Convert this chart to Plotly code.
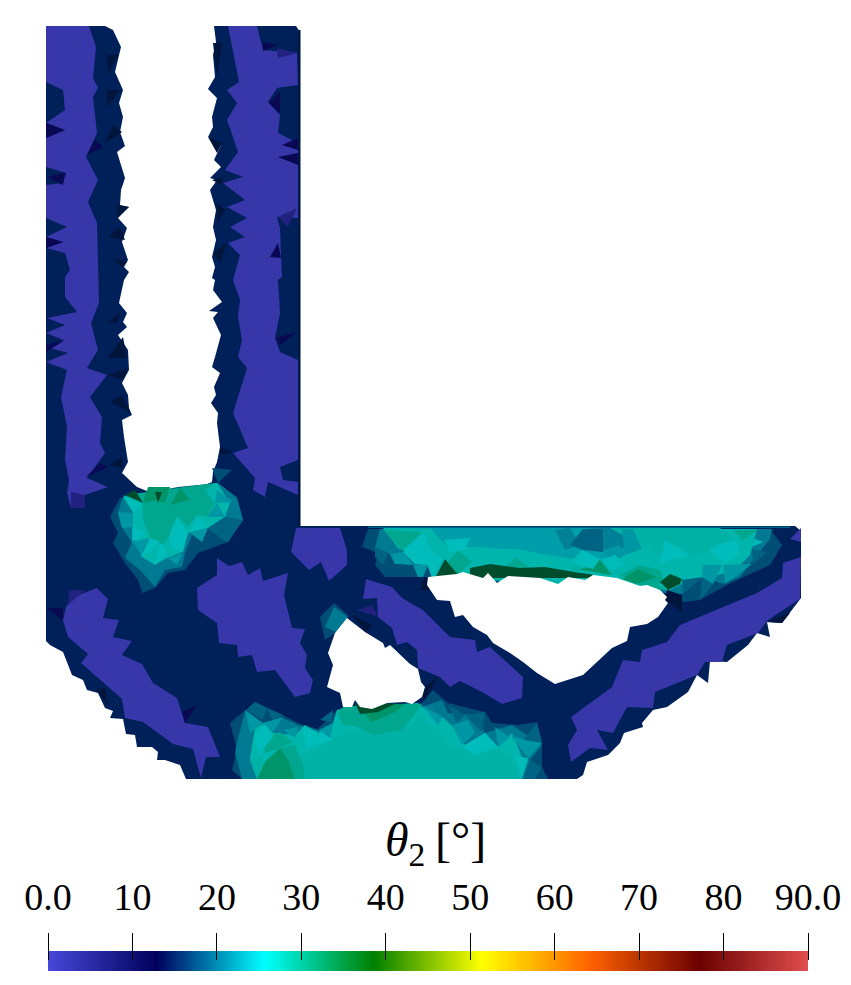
import numpy as np
import plotly.graph_objects as go
from plotly.colors import sample_colorscale

WIDTH = 851
HEIGHT = 985

# ParaView "rainbow desaturated" map
RAINBOW = [
    [0 / 7, 'rgb(71,71,219)'], [1 / 7, 'rgb(0,0,92)'], [2 / 7, 'rgb(0,255,255)'],
    [3 / 7, 'rgb(0,128,0)'], [4 / 7, 'rgb(255,255,0)'], [5 / 7, 'rgb(255,97,0)'],
    [6 / 7, 'rgb(107,0,0)'], [7 / 7, 'rgb(224,77,77)'],
]

TICK_VALUES = [0, 10, 20, 30, 40, 50, 60, 70, 80, 90]
TICK_LABELS = ['0.0', '10', '20', '30', '40', '50', '60', '70', '80', '90.0']
BAR_VALUES = np.linspace(0, 90, 721)

# Geometry, as outlines in image pixels
BRACKET = [[
    (46, 26), (105, 26), (113, 30), (121, 47), (115, 72), (123, 90), (119, 103), (123, 117),
    (120, 132), (125, 146), (117, 152), (125, 178), (121, 190), (120, 205), (129, 207),
    (118, 218), (127, 228), (122, 242), (128, 260), (124, 267), (129, 272), (124, 280),
    (119, 303), (127, 313), (123, 322), (127, 327), (118, 335), (128, 350), (129, 370),
    (122, 383), (128, 395), (129, 408), (132, 415), (122, 420), (124, 437), (128, 462),
    (122, 473), (137, 487), (147, 491), (177, 490), (197, 488), (212, 482), (213, 472),
    (217, 462), (220, 447), (217, 423), (218, 413), (211, 403), (216, 395), (214, 387),
    (220, 373), (212, 367), (215, 357), (221, 335), (213, 318), (218, 312), (209, 311),
    (222, 302), (213, 290), (215, 280), (212, 278), (215, 267), (212, 257), (216, 240),
    (213, 227), (216, 210), (210, 190), (217, 180), (210, 178), (221, 167), (214, 160),
    (221, 145), (208, 137), (213, 127), (212, 117), (217, 98), (208, 89), (215, 77),
    (213, 55), (216, 42), (214, 26), (296, 26), (300, 32), (300, 526), (795, 526),
    (801, 531), (801, 598), (790, 613), (782, 623), (767, 622), (770, 637), (757, 633),
    (748, 645), (727, 662), (710, 661), (708, 683), (697, 675), (688, 692), (667, 707),
    (653, 710), (642, 723), (643, 727), (624, 733), (620, 743), (608, 755), (587, 762),
    (583, 775), (577, 779), (186, 779), (180, 765), (165, 760), (157, 760), (158, 752),
    (152, 747), (137, 747), (135, 735), (126, 734), (123, 719), (110, 718), (113, 711),
    (105, 708), (98, 693), (87, 690), (83, 680), (72, 675), (63, 652), (50, 645), (46, 641),
]]
SMALL_VOID = [[
    (347, 618), (365, 632), (383, 643), (385, 648), (390, 645), (410, 664), (418, 669),
    (421, 682), (425, 687), (422, 697), (412, 704), (405, 702), (387, 703), (372, 709),
    (360, 707), (355, 700), (352, 707), (343, 707), (340, 693), (327, 687), (333, 665),
    (328, 653), (335, 633),
]]
LARGE_VOID = [[
    (428, 577), (457, 574), (463, 572), (483, 578), (488, 573), (497, 583), (508, 576),
    (540, 578), (558, 584), (568, 577), (585, 580), (593, 575), (617, 578), (640, 586),
    (647, 585), (660, 590), (667, 597), (665, 600), (668, 603), (658, 617), (647, 624),
    (630, 627), (627, 641), (612, 648), (583, 675), (555, 684), (537, 673), (523, 662),
    (510, 653), (493, 643), (487, 635), (473, 627), (463, 615), (455, 617), (450, 601),
    (437, 600), (427, 585),
]]

# Low angle zones
THETA_3 = [
    [(46, 26), (89, 26), (96, 47), (93, 78), (98, 88), (93, 97), (97, 133), (86, 157),
     (98, 180), (88, 202), (97, 223), (98, 280), (99, 303), (91, 323), (98, 350), (87, 368),
     (107, 375), (90, 397), (102, 417), (100, 443), (105, 453), (87, 478), (108, 487),
     (85, 495), (85, 508), (71, 508), (67, 493), (69, 480), (65, 460), (67, 427), (61, 397),
     (67, 370), (46, 362), (68, 353), (46, 347), (63, 340), (46, 333), (65, 325), (47, 318),
     (77, 312), (65, 297), (65, 277), (70, 270), (65, 253), (46, 248), (63, 242), (46, 237),
     (67, 227), (46, 218), (46, 185), (63, 183), (66, 173), (46, 167), (46, 138), (65, 130),
     (46, 123), (65, 110), (63, 90), (46, 82)],
    [(228, 26), (257, 26), (263, 50), (297, 53), (298, 85), (277, 88), (268, 102), (280, 115),
     (278, 133), (298, 143), (298, 218), (277, 217), (280, 228), (282, 277), (278, 280),
     (280, 313), (275, 338), (280, 352), (298, 360), (298, 460), (280, 467), (283, 480),
     (298, 482), (298, 495), (268, 482), (265, 497), (253, 490), (255, 478), (233, 453),
     (248, 448), (233, 413), (247, 368), (238, 357), (242, 340), (238, 317), (240, 300),
     (233, 280), (240, 255), (228, 243), (245, 237), (230, 227), (247, 218), (227, 207),
     (245, 200), (223, 183), (243, 177), (225, 170), (238, 152), (233, 137), (227, 120),
     (237, 103), (227, 90), (239, 82), (233, 50)],
    [(97, 588), (108, 599), (103, 618), (119, 620), (113, 637), (132, 641), (122, 655),
     (142, 664), (153, 683), (177, 698), (185, 723), (208, 727), (220, 757), (206, 757),
     (201, 778), (193, 749), (173, 744), (143, 722), (125, 718), (122, 699), (81, 663),
     (88, 654), (68, 637), (63, 620), (66, 607), (73, 597)],
    [(217, 558), (229, 566), (242, 562), (248, 575), (260, 568), (263, 581), (288, 573),
     (284, 595), (292, 628), (305, 629), (300, 643), (307, 655), (305, 668), (313, 680),
     (310, 693), (295, 697), (275, 670), (257, 672), (252, 655), (238, 657), (237, 645),
     (219, 643), (217, 623), (198, 610), (197, 588), (217, 575)],
    [(296, 528), (340, 528), (347, 550), (347, 565), (329, 581), (321, 562), (309, 570),
     (291, 552)],
    [(366, 579), (392, 587), (402, 598), (423, 610), (450, 637), (475, 640), (477, 652),
     (490, 647), (523, 677), (522, 698), (502, 704), (482, 692), (460, 681), (450, 687),
     (440, 677), (418, 668), (417, 650), (407, 642), (397, 645), (392, 628), (378, 617),
     (377, 598), (363, 599)],
    [(801, 557), (800, 599), (768, 620), (758, 633), (727, 645), (722, 662), (705, 662),
     (697, 675), (655, 692), (653, 708), (627, 707), (613, 733), (597, 730), (608, 750),
     (590, 748), (571, 762), (568, 745), (577, 730), (571, 717), (612, 687), (623, 660),
     (640, 662), (642, 650), (667, 642), (680, 625), (727, 605), (757, 593), (782, 578),
     (783, 563)],
    [(790, 539), (801, 528), (801, 542)],
]
THETA_6 = [
    [(277, 48), (278, 58), (297, 53)], [(278, 217), (297, 208), (288, 227)],
    [(71, 492), (85, 495), (85, 508), (71, 508)], [(69, 590), (85, 590), (68, 605)],
    [(357, 610), (372, 605), (378, 617)],
]
THETA_10 = [
    [(46, 123), (65, 130), (46, 138)], [(87, 155), (95, 140), (103, 147)],
    [(47, 177), (65, 173), (63, 185)], [(46, 237), (63, 242), (46, 248)],
    [(263, 42), (278, 45), (263, 51)], [(269, 103), (280, 92), (280, 113)],
    [(282, 145), (298, 138), (298, 150)], [(278, 157), (298, 153), (298, 165)],
    [(270, 257), (278, 243), (281, 258)], [(46, 345), (65, 340), (46, 352)],
    [(46, 608), (63, 608), (63, 620)], [(182, 712), (197, 705), (185, 723)],
    [(276, 338), (297, 332), (280, 345)], [(86, 477), (100, 463), (108, 467)],
]

# Patch below the slot, bottom patch, top band: nested rings of facets
THETA_18 = [
    [(120, 498), (110, 517), (118, 533), (113, 543), (125, 563), (138, 580), (142, 593),
     (155, 588), (168, 573), (185, 570), (198, 553), (228, 542), (243, 520), (237, 497),
     (218, 483), (212, 468), (232, 470), (218, 483), (178, 487)],
    [(230, 723), (255, 702), (283, 715), (298, 723), (318, 729), (333, 713), (345, 707),
     (422, 703), (433, 690), (448, 703), (485, 712), (492, 723), (518, 725), (537, 722),
     (542, 743), (542, 767), (548, 779), (242, 779), (232, 770), (237, 750)],
    [(368, 529), (362, 547), (378, 553), (375, 565), (385, 577), (428, 577), (667, 592),
     (683, 602), (700, 600), (727, 585), (750, 574), (770, 565), (782, 545), (770, 529)],
    [(320, 617), (334, 603), (348, 615), (335, 633), (325, 640)],
]
THETA_21 = [
    [(123, 497), (118, 512), (122, 528), (132, 542), (125, 558), (140, 570), (155, 587),
     (165, 570), (182, 567), (185, 553), (192, 535), (208, 528), (227, 542), (243, 520),
     (237, 498), (218, 483)],
    [(237, 742), (245, 712), (263, 723), (283, 718), (298, 725), (318, 730), (333, 723),
     (337, 710), (422, 707), (442, 700), (448, 713), (475, 715), (485, 733), (512, 725),
     (542, 745), (530, 760), (540, 767), (535, 779), (242, 779), (235, 753)],
    [(380, 529), (375, 547), (390, 554), (410, 565), (428, 565), (432, 577), (682, 594),
     (703, 577), (723, 584), (740, 577), (753, 560), (770, 539), (772, 529)],
    [(325, 627), (334, 607), (348, 617), (336, 632)],
]
THETA_24 = [
    [(430, 528), (447, 547), (477, 547), (500, 549), (517, 549), (547, 555), (573, 559),
     (582, 550), (600, 559), (625, 555), (650, 528)],
]
THETA_22 = [
    [(590, 528), (600, 552), (625, 548), (622, 528)],
    [(555, 530), (570, 528), (580, 545), (565, 550)],
]
THETA_26 = [
    [(123, 497), (133, 512), (132, 533), (142, 557), (155, 565), (167, 558), (182, 552),
     (188, 533), (208, 528), (225, 517), (230, 503), (217, 483)],
    [(250, 758), (255, 728), (265, 723), (273, 733), (295, 735), (305, 725), (318, 733),
     (333, 723), (337, 710), (347, 707), (418, 703), (435, 718), (443, 717), (453, 727),
     (465, 745), (485, 733), (498, 747), (512, 733), (522, 757), (528, 758), (522, 779),
     (257, 779)],
    [(383, 528), (398, 548), (425, 560), (432, 577), (670, 590), (690, 580), (718, 575),
     (735, 570), (750, 555), (757, 529)],
]
THETA_28 = [
    [(280, 779), (287, 750), (305, 755), (337, 737), (345, 730), (400, 730), (420, 722),
     (440, 730), (445, 745), (470, 750), (490, 745), (510, 757), (520, 779)],
    [(610, 528), (720, 528), (735, 540), (725, 550), (690, 555), (660, 555), (640, 545)],
    [(405, 733), (422, 710), (428, 732)], [(250, 760), (265, 753), (257, 779)],
    [(573, 564), (593, 569), (570, 573)],
]
THETA_30 = [
    [(125, 495), (143, 503), (143, 520), (150, 538), (162, 545), (172, 533), (177, 517),
     (188, 527), (197, 515), (207, 517), (215, 503), (205, 490), (215, 483)],
    [(337, 712), (345, 706), (422, 704), (412, 718), (402, 730), (385, 733), (373, 735),
     (358, 727), (343, 725)],
    [(383, 530), (402, 550), (423, 532)], [(733, 530), (743, 540), (757, 530)],
    [(448, 562), (458, 550), (472, 562), (457, 575)],
    [(500, 570), (517, 558), (530, 568), (520, 575)],
    [(265, 762), (280, 748), (295, 745), (303, 765), (305, 779), (262, 779)],
    [(263, 740), (280, 732), (293, 742), (282, 747), (265, 753)],
    [(620, 575), (640, 565), (660, 570), (668, 590), (640, 585)],
]
THETA_33 = [
    [(257, 779), (265, 762), (280, 748), (288, 760), (295, 779)],
    [(143, 503), (155, 500), (165, 503), (170, 487), (148, 487)],
    [(170, 505), (180, 488), (190, 500)],
    [(355, 703), (372, 722), (395, 712), (405, 704)],
    [(570, 568), (580, 570), (600, 560), (612, 575)],
    [(440, 577), (448, 565), (460, 575)], [(638, 569), (657, 577), (637, 584), (622, 579)],
]
# Darker blue-teal facets that break up the rings
THETA_19 = [
    [(225, 517), (243, 520), (228, 542)], [(208, 528), (225, 517), (228, 542)],
    [(255, 702), (267, 708), (263, 720), (247, 710)], [(267, 708), (283, 715), (273, 722)],
    [(320, 720), (333, 710), (332, 722)], [(448, 705), (465, 715), (457, 723)],
    [(465, 715), (485, 712), (482, 732)], [(523, 740), (537, 723), (542, 743)],
    [(530, 760), (542, 767), (535, 779), (523, 779)],
    [(375, 547), (388, 554), (383, 565), (375, 557)], [(682, 580), (702, 577), (683, 594)],
    [(702, 577), (713, 584), (700, 600)], [(752, 549), (767, 552), (753, 564)],
    [(570, 545), (583, 529), (603, 529), (603, 552), (583, 550)],
    [(368, 526.5), (790, 526.5), (790, 528), (368, 528)],
]
THETA_23 = [
    [(118, 512), (133, 513), (132, 527), (122, 528)], [(215, 503), (233, 502), (217, 490)],
    [(217, 503), (225, 517), (207, 517)], [(190, 533), (208, 528), (202, 542)],
    [(132, 542), (150, 538), (142, 555)], [(168, 558), (183, 553), (177, 565)],
    [(245, 710), (263, 723), (250, 733)], [(263, 723), (283, 717), (273, 732)],
    [(283, 730), (298, 727), (295, 738)], [(320, 730), (333, 723), (330, 740)],
    [(422, 705), (443, 717), (438, 725)], [(452, 725), (468, 720), (475, 733), (462, 745)],
    [(495, 727), (510, 737), (498, 747)], [(510, 735), (525, 740), (542, 743), (528, 758)],
    [(390, 554), (403, 552), (413, 565), (395, 564)], [(413, 565), (428, 565), (423, 577), (418, 577)],
    [(603, 550), (620, 545), (625, 555), (613, 562)], [(622, 529), (633, 529), (642, 549), (625, 555)],
    [(703, 565), (722, 565), (713, 584), (702, 577)],
    [(723, 565), (740, 564), (752, 564), (735, 577), (725, 584)],
]
# Bright cyan facets
THETA_25 = [
    [(123, 495), (143, 505), (133, 512)], [(133, 527), (145, 533), (132, 542)],
    [(150, 538), (160, 542), (142, 557)], [(160, 542), (167, 553), (155, 565)],
    [(177, 517), (187, 533), (170, 533)], [(170, 533), (188, 533), (183, 552), (170, 547)],
    [(197, 517), (208, 527), (190, 532)], [(255, 735), (265, 725), (273, 737), (258, 755)],
    [(302, 727), (318, 732), (307, 748)], [(305, 748), (322, 732), (333, 740)],
    [(462, 747), (485, 733), (498, 747), (475, 755)], [(515, 755), (528, 760), (522, 777)],
    [(665, 540), (690, 555), (660, 563)], [(716, 545), (735, 540), (740, 550), (725, 562)],
    [(444, 540), (470, 538), (465, 550), (450, 552)], [(582, 550), (600, 559), (593, 569), (573, 564)],
    [(602, 560), (615, 555), (625, 565), (612, 570)], [(658, 584), (667, 590), (680, 584)],
    [(708, 549), (720, 547), (740, 554), (725, 564)], [(755, 539), (763, 542), (752, 547)],
    [(403, 552), (423, 532), (430, 549), (443, 559), (432, 577), (428, 565), (415, 564)],
]
# Facets in shadow next to the free boundary
SHADOW_15 = [
    [(107, 55), (118, 55), (108, 75)], [(107, 107), (120, 90), (107, 90)],
    [(105, 143), (122, 132), (113, 125)], [(117, 205), (129, 207), (117, 217)],
    [(108, 237), (120, 227), (125, 240)], [(113, 258), (127, 262), (122, 267)],
    [(213, 43), (222, 43), (217, 77)], [(208, 137), (222, 143), (217, 153)],
    [(212, 180), (222, 177), (222, 185)], [(217, 203), (225, 210), (217, 223)],
    [(213, 253), (227, 243), (220, 263)], [(107, 323), (120, 312), (117, 323)],
    [(108, 358), (123, 337), (127, 358)], [(108, 375), (128, 368), (123, 380)],
    [(110, 402), (122, 395), (130, 412)], [(110, 465), (123, 457), (122, 468)],
    [(220, 447), (233, 452), (220, 455)], [(96, 690), (105, 688), (108, 705)],
    [(155, 752), (165, 758), (180, 765), (160, 755)], [(352, 615), (365, 632), (372, 625)],
    [(420, 690), (438, 677), (425, 700)], [(425, 577), (420, 590), (440, 590)],
    [(667, 590), (682, 595), (682, 612), (665, 600)], [(767, 622), (790, 613), (782, 623)],
    [(298.5, 30), (300.5, 30), (300.5, 526), (298.5, 526)],
]
SHADOW_33 = [
    [(125, 495), (135, 490), (143, 503)], [(155, 492), (158, 503), (162, 492)],
    [(435, 578), (445, 559), (458, 575)],
    [(470, 568), (490, 564), (520, 568), (545, 567), (580, 573), (590, 574), (600, 578), (470, 578)],
    [(355, 703), (360, 714), (378, 712), (395, 704)],
    [(660, 582), (670, 574), (682, 579), (680, 584), (668, 590)],
]


def mesh_color(theta, shade=0.75):
    # flat lit facets come out darker than the bar
    rgb = sample_colorscale(RAINBOW, [theta / 90], colortype='tuple')[0]
    return 'rgb({:.0f},{:.0f},{:.0f})'.format(*[255 * c * shade for c in rgb])


def add_polygons(fig, polygons, color):
    xs, ys = [], []
    for polygon in polygons:
        xs += [p[0] for p in polygon] + [polygon[0][0], None]
        ys += [p[1] for p in polygon] + [polygon[0][1], None]
    fig.add_trace(go.Scatter(
        x=xs, y=ys, mode='lines', fill='toself', fillcolor=color,
        line=dict(width=0, color=color), hoverinfo='skip', showlegend=False,
    ))


fig = go.Figure()

add_polygons(fig, BRACKET, mesh_color(15))
add_polygons(fig, THETA_3, mesh_color(0, 0.77))
add_polygons(fig, THETA_6, mesh_color(5))
add_polygons(fig, THETA_10, mesh_color(11))
add_polygons(fig, THETA_18, mesh_color(18))
add_polygons(fig, THETA_21, mesh_color(21))
add_polygons(fig, THETA_26, mesh_color(27))
add_polygons(fig, THETA_24, mesh_color(23.5))
add_polygons(fig, THETA_22, mesh_color(21.5))
add_polygons(fig, THETA_28, mesh_color(27.5))
add_polygons(fig, THETA_30, mesh_color(29))
add_polygons(fig, THETA_33, mesh_color(31.5))
add_polygons(fig, THETA_19, mesh_color(19.5))
add_polygons(fig, THETA_23, mesh_color(23))
add_polygons(fig, THETA_25, mesh_color(26))
add_polygons(fig, SHADOW_15, mesh_color(15, 0.5))
add_polygons(fig, SHADOW_33, mesh_color(33, 0.42))
add_polygons(fig, SMALL_VOID, 'white')
add_polygons(fig, LARGE_VOID, 'white')

fig.add_trace(go.Heatmap(
    x=BAR_VALUES, y=[0], z=[BAR_VALUES], xaxis='x2', yaxis='y2',
    colorscale=RAINBOW, zmin=0, zmax=90, showscale=False, hoverinfo='skip',
))

fig.add_annotation(
    text='<i>θ</i><sub>2</sub>\u2009[°]', x=435, y=843, xref='x', yref='y', showarrow=False,
    font=dict(family='Liberation Serif', size=48, color='black'),
)

fig.update_layout(
    width=WIDTH, height=HEIGHT,
    margin=dict(l=0, r=0, t=0, b=0, autoexpand=False),
    paper_bgcolor='white', plot_bgcolor='rgba(0,0,0,0)', showlegend=False,
    xaxis=dict(domain=[0, 1], range=[0, WIDTH], visible=False),
    yaxis=dict(domain=[0, 1], range=[HEIGHT, 0], visible=False),
    xaxis2=dict(
        domain=[48 / WIDTH, 808 / WIDTH], range=[0, 90], anchor='free', automargin=False,
        position=(HEIGHT - 960) / HEIGHT, side='top', showgrid=False, zeroline=False,
        tickvals=TICK_VALUES, ticktext=TICK_LABELS, ticks='outside', ticklen=27,
        tickwidth=1, tickcolor='black', ticklabelstandoff=8,
        tickfont=dict(family='Liberation Serif', size=38, color='black'),
    ),
    yaxis2=dict(
        domain=[(HEIGHT - 971) / HEIGHT, (HEIGHT - 951) / HEIGHT], anchor='x2',
        range=[-0.5, 0.5], visible=False,
    ),
)

fig.write_html("out.html", config={'displayModeBar': False},
               post_script="document.body.style.margin='0';")
